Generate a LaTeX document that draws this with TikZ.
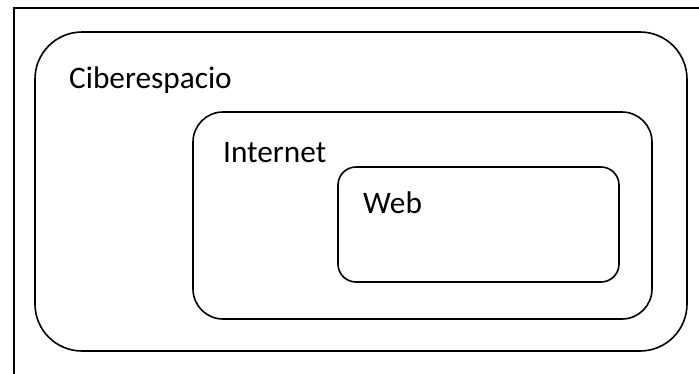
\documentclass[tikz,border=0pt]{standalone}
\usepackage{fontspec}
\setmainfont{Carlito}
\begin{document}
\begin{tikzpicture}[x=1pt,y=-1pt,
  region/.style={draw=black,line width=1.6pt},
  lbl/.style={anchor=base west,inner sep=0pt,font=\fontsize{31.3}{31}\selectfont}]
\useasboundingbox (0,0) rectangle (699,373);
\draw[line width=2pt] (13.5,380) -- (13.5,7.5) -- (705,7.5);
\draw[region,rounded corners=47pt] (35,32) rectangle (687,351);
\draw[region,rounded corners=30pt] (193,112) rectangle (652,319);
\draw[region,rounded corners=18pt] (338,167) rectangle (619,282);
\node[lbl] (cib) at (69,88) {Ciberespacio};
\node[lbl] (int) at (223,162) {Internet};
\node[lbl] (web) at (363,213) {Web};
\end{tikzpicture}
\end{document}
